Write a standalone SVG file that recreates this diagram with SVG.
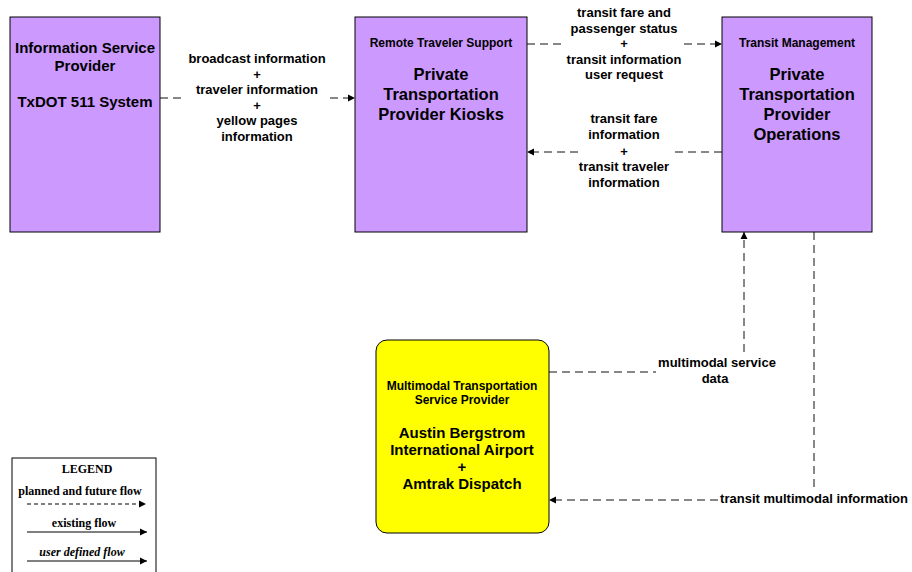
<svg xmlns="http://www.w3.org/2000/svg" width="912" height="572" viewBox="0 0 912 572">
<defs>
<marker id="ah" markerWidth="8" markerHeight="8" refX="7" refY="4" orient="auto" markerUnits="userSpaceOnUse">
<path d="M0,0.5 L7,4 L0,7.5 Z" fill="#000"/>
</marker>
<style>
.box{fill:#CC99FF;stroke:#000;stroke-width:1}
.ybox{fill:#FFFF00;stroke:#000;stroke-width:1}
.t{font-family:"Liberation Sans",Arial,sans-serif;font-weight:bold;fill:#000;text-anchor:middle}
.big{font-size:15px}
.name{font-size:16.5px}
.small{font-size:12px}
.lbl{font-size:13px}
.flow{fill:none;stroke:#111;stroke-width:1;stroke-dasharray:8 5}
.leg{font-family:"Liberation Serif","Times New Roman",serif;font-weight:bold;font-size:12px;text-anchor:middle;fill:#000}
</style>
</defs>
<rect width="912" height="572" fill="#fff"/>

<g id="isp">
<rect class="box" x="10" y="17" width="150" height="215"/>
<text class="t big" x="85" y="53">Information Service</text>
<text class="t big" x="85" y="71">Provider</text>
<text class="t big" x="85" y="107">TxDOT 511 System</text>
</g>

<g id="kiosks">
<rect class="box" x="355" y="17" width="172" height="215"/>
<text class="t small" x="441" y="47">Remote Traveler Support</text>
<text class="t name" x="441" y="80">Private</text>
<text class="t name" x="441" y="100">Transportation</text>
<text class="t name" x="441" y="120">Provider Kiosks</text>
</g>

<g id="operations">
<rect class="box" x="722" y="17" width="150" height="215"/>
<text class="t small" x="797" y="47">Transit Management</text>
<text class="t name" x="797" y="80">Private</text>
<text class="t name" x="797" y="100">Transportation</text>
<text class="t name" x="797" y="120">Provider</text>
<text class="t name" x="797" y="140">Operations</text>
</g>

<g id="multimodal">
<rect class="ybox" x="376" y="340" width="173" height="193" rx="11" ry="11"/>
<text class="t small" x="462" y="390">Multimodal Transportation</text>
<text class="t small" x="462" y="404">Service Provider</text>
<text class="t big" x="462" y="438">Austin Bergstrom</text>
<text class="t big" x="462" y="455">International Airport</text>
<text class="t big" x="462" y="472">+</text>
<text class="t big" x="462" y="489">Amtrak Dispatch</text>
</g>

<g id="connectors">
<path class="flow" d="M160,98 L186,98"/>
<path class="flow" d="M330,98 L355,98" marker-end="url(#ah)"/>
<g class="t lbl">
<text x="257" y="63">broadcast information</text>
<text x="257" y="79">+</text>
<text x="257" y="94">traveler information</text>
<text x="257" y="110">+</text>
<text x="257" y="125">yellow pages</text>
<text x="257" y="141">information</text>
</g>

<path class="flow" d="M527,44 L566,44"/>
<path class="flow" d="M684,44 L722,44" marker-end="url(#ah)"/>
<g class="t lbl">
<text x="624" y="17">transit fare and</text>
<text x="624" y="33">passenger status</text>
<text x="624" y="48">+</text>
<text x="624" y="64">transit information</text>
<text x="624" y="79">user request</text>
</g>

<path class="flow" d="M722,152 L670,152"/>
<path class="flow" d="M578,152 L527,152" marker-end="url(#ah)"/>
<g class="t lbl">
<text x="624" y="123">transit fare</text>
<text x="624" y="139">information</text>
<text x="624" y="156">+</text>
<text x="624" y="171">transit traveler</text>
<text x="624" y="187">information</text>
</g>

<path class="flow" d="M549,372 L656,372"/>
<path class="flow" d="M744,352 L744,232" marker-end="url(#ah)"/>
<g class="t lbl">
<text x="717" y="367">multimodal service</text>
<text x="715" y="383">data</text>
</g>

<path class="flow" d="M814,232 L814,490"/>
<path class="flow" d="M718,500 L549,500" marker-end="url(#ah)"/>
<text class="t lbl" x="814" y="503">transit multimodal information</text>
</g>

<g id="legend">
<rect x="12" y="458" width="144" height="120" fill="#fff" stroke="#000" stroke-width="1"/>
<text class="leg" x="87" y="473">LEGEND</text>
<text class="leg" x="80" y="495">planned and future flow</text>
<path d="M27,504 L146,504" stroke="#000" stroke-width="1" stroke-dasharray="4 3" marker-end="url(#ah)"/>
<text class="leg" x="84" y="527">existing flow</text>
<path d="M27,532 L147,532" stroke="#000" stroke-width="1" marker-end="url(#ah)"/>
<text class="leg" x="82" y="556" font-style="italic">user defined flow</text>
<path d="M27,561 L147,561" stroke="#000" stroke-width="1" marker-end="url(#ah)"/>
</g>
</svg>
